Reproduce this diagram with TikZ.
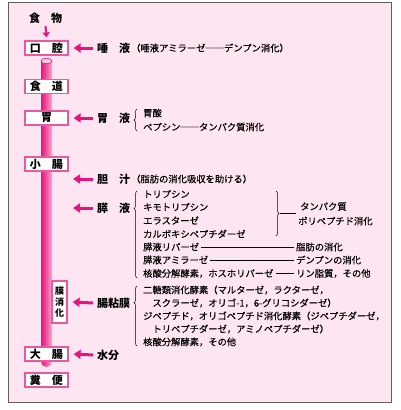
\documentclass[tikz,border=0pt]{standalone}
\usepackage{fontspec}
\setmainfont{Noto Sans CJK JP}
\newfontfamily\detailfont{Noto Sans CJK JP}[FakeBold=0.35]
\usetikzlibrary{arrows.meta,decorations.pathreplacing}

\definecolor{bgpink}{RGB}{253,230,241}
\definecolor{deeppink}{RGB}{230,20,125}
\definecolor{boxpink}{RGB}{232,90,160}
\definecolor{tubelight}{RGB}{246,170,208}
\definecolor{framegray}{RGB}{95,95,95}

\tikzset{
  organ/.style={draw=boxpink, fill=white, line width=1.2pt, minimum width=43pt,
    minimum height=14pt, inner sep=0pt, font=\fontsize{11}{11}\selectfont\bfseries},
  juice/.style={anchor=west, inner sep=0pt, font=\fontsize{11}{11}\selectfont\bfseries},
  enzyme/.style={anchor=west, inner sep=0pt, font=\detailfont\fontsize{9.3}{9.3}\selectfont},
  feed/.style={deeppink, line width=3pt, -{Triangle[length=7pt,width=9pt]}},
  brc/.style={decorate, decoration={brace, amplitude=3pt, aspect=#1}, line width=0.5pt},
  brc/.default=0.5,
  link/.style={line width=0.6pt},
}

\begin{document}
\begin{tikzpicture}[x=1pt, y=-1pt]
\useasboundingbox (0,0) rectangle (400,410);
\draw[framegray, fill=bgpink, line width=1pt] (8,2) rectangle (391,402);

% tube
\shade[left color=deeppink, right color=tubelight, middle color=deeppink!55!tubelight]
  (41,61) [rounded corners=5.5pt] -- (41,367) -- (52,367) [sharp corners] -- (52,61) -- cycle;
\draw[deeppink, fill=tubelight!60!white, line width=0.6pt] (46.5,61) ellipse [x radius=5.5, y radius=2.8];

% organs
\node[inner sep=0pt, font=\fontsize{11}{11}\selectfont\bfseries] (food) at (45.5,18) {食　物};
\node[organ] (mouth) at (46.5,48) {口　腔};
\node[organ] (esoph) at (46.5,86.5) {食　道};
\node[organ] (stomach) at (46.5,118) {胃};
\node[organ] (smallint) at (46.5,164) {小　腸};
\node[organ, minimum width=15pt, minimum height=42pt, align=center,
  font=\fontsize{9}{11}\selectfont\bfseries] (membrane) at (59.5,302) {膜\\消\\化};
\node[organ] (largeint) at (46.5,354) {大　腸};
\node[organ] (feces) at (46.5,380) {糞　便};

\draw[deeppink, line width=2pt, -{Triangle[length=5pt,width=7pt]}]
  ([yshift=-2.5pt]food.south) -- ([yshift=3pt]mouth.north);

% saliva
\node[juice] (saliva) at (97,48) {唾　液};
\node[enzyme] (salivad) at (131,48) {（唾液アミラーゼ──デンプン消化）};

% gastric juice
\node[juice] (gastric) at (97,118) {胃　液};
\draw[brc] (137,131) -- (137,109);
\node[enzyme] (acid) at (143,113) {胃酸};
\node[enzyme] (pepsin) at (143,127) {ペプシン──タンパク質消化};

% bile
\node[juice] (bile) at (97,179) {胆　汁};
\node[enzyme] (biled) at (131,179) {（脂肪の消化吸収を助ける）};
\coordinate (bileend) at (73,179);

% pancreatic juice
\node[juice] (pancreas) at (97,208) {膵　液};
\coordinate (pancend) at (73,208);
\draw[brc=0.8] (137,278) -- (137,191);
\node[enzyme] (tryp) at (143,194) {トリプシン};
\node[enzyme] (chymo) at (143,207) {キモトリプシン};
\node[enzyme] (elast) at (143,220.5) {エラスターゼ};
\node[enzyme] (carboxy) at (143,234) {カルボキシペプチダーゼ};
\node[enzyme] (lipase) at (143,247) {膵液リパーゼ};
\node[enzyme] (amylase) at (143,260) {膵液アミラーゼ};
\node[enzyme] (nuclease) at (143,273.5) {核酸分解酵素，ホスホリパーゼ};

\draw[brc] (276,191) -- (276,236);
\coordinate (protip) at (279.5,213.5);
\coordinate (proend) at (296,213.5);
\node[enzyme] (protein) at (300,206.5) {タンパク質};
\node[enzyme] (polypep) at (298,221) {ポリペプチド消化};
\node[enzyme] (fat) at (296,247) {脂肪の消化};
\node[enzyme] (starch) at (296,260) {デンプンの消化};
\node[enzyme] (phospho) at (296,273.5) {リン脂質，その他};

\draw[link] (protip) -- (proend);
\draw[link] ([xshift=2pt]lipase.east) -- ([xshift=-2pt]fat.west);
\draw[link] ([xshift=2pt]amylase.east) -- ([xshift=-2pt]starch.west);
\draw[link] ([xshift=2pt]nuclease.east) -- ([xshift=-2pt]phospho.west);

% intestinal mucosa
\node[juice] (mucosa) at (97,303) {腸粘膜};
\draw[brc=0.72] (137,346) -- (137,286);
\node[enzyme] (disacc) at (143,290) {二糖類消化酵素（マルターゼ，ラクターゼ，};
\node[enzyme] (sucrase) at (143,303) {　スクラーゼ，オリゴ-1，6-グリコシダーゼ）};
\node[enzyme] (dipep) at (143,316) {ジペプチド，オリゴペプチド消化酵素（ジペプチダーゼ，};
\node[enzyme] (tripep) at (143,329) {　トリペプチダーゼ，アミノペプチダーゼ）};
\node[enzyme] (nucl2) at (143,342) {核酸分解酵素，その他};

% water
\node[juice] (water) at (97,355) {水分};

% arrows
\draw[feed] ([xshift=-4pt]saliva.west) -- ([xshift=5pt]mouth.east);
\draw[feed] ([xshift=-4pt]gastric.west) -- ([xshift=5pt]stomach.east);
\draw[feed] ([xshift=-4pt]bile.west) -- (bileend);
\draw[feed] ([xshift=-4pt]pancreas.west) -- (pancend);
\draw[feed] ([xshift=-4pt]mucosa.west) -- ([xshift=5pt]membrane.east);
\draw[feed] ([xshift=-4pt]water.west) -- ([xshift=5pt]largeint.east);
\end{tikzpicture}
\end{document}
